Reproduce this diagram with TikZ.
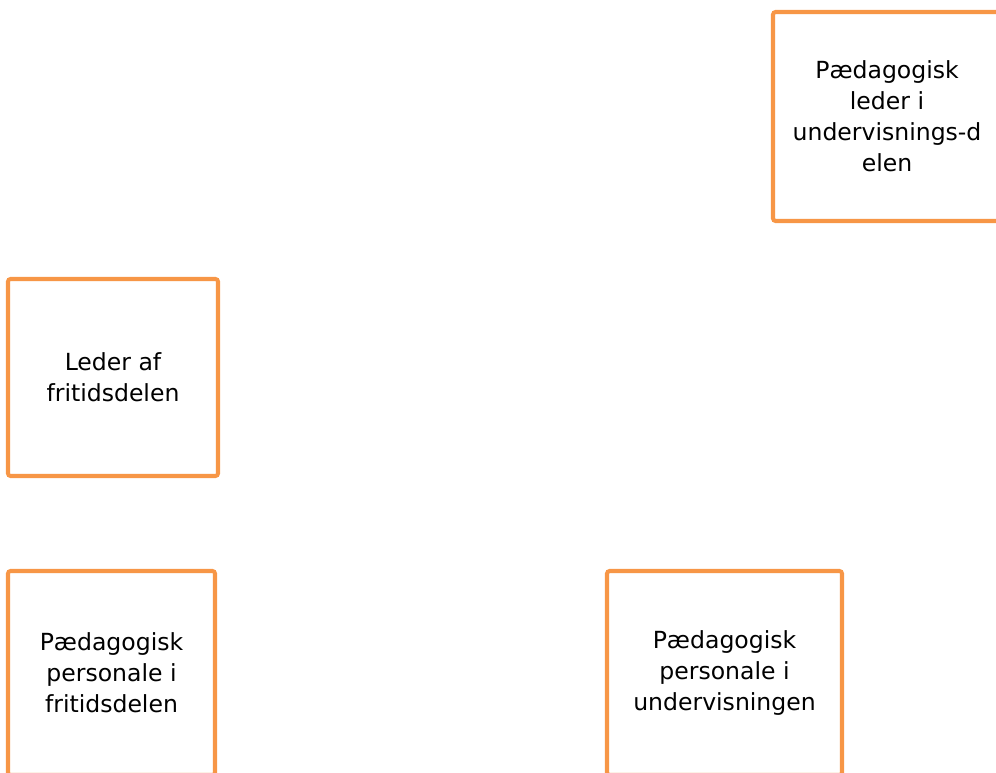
\documentclass[tikz,border=0pt]{standalone}
\usepackage{fontspec}
\setmainfont{DejaVu Sans}
\definecolor{boxorange}{HTML}{F79646}

\begin{document}
\begin{tikzpicture}[x=0.02cm,y=-0.02cm,
  every node/.style={font=\fontsize{13.4}{17.6}\selectfont},
  rolle/.style={draw=boxorange,line width=2.3pt,rounded corners=1.5pt,fill=white,align=center,inner sep=0pt}]

\useasboundingbox (0,0) rectangle (996,773);
\clip (0,0) rectangle (996,773);

\node [rolle,minimum width=228*0.02cm,minimum height=209*0.02cm] (paedleder) at (887,116.5) {Pædagogisk\\leder i\\undervisnings-d\\elen};

\node [rolle,minimum width=210*0.02cm,minimum height=197*0.02cm] (fritidsleder) at (113,377.5) {Leder af\\fritidsdelen};

\node [rolle,minimum width=207*0.02cm,minimum height=204*0.02cm] (fritidspersonale) at (111.5,673) {Pædagogisk\\personale i\\fritidsdelen};

\node [rolle,minimum width=235*0.02cm,minimum height=204*0.02cm] (underpersonale) at (724.5,673) {Pædagogisk\\personale i\\undervisningen};

\end{tikzpicture}
\end{document}
